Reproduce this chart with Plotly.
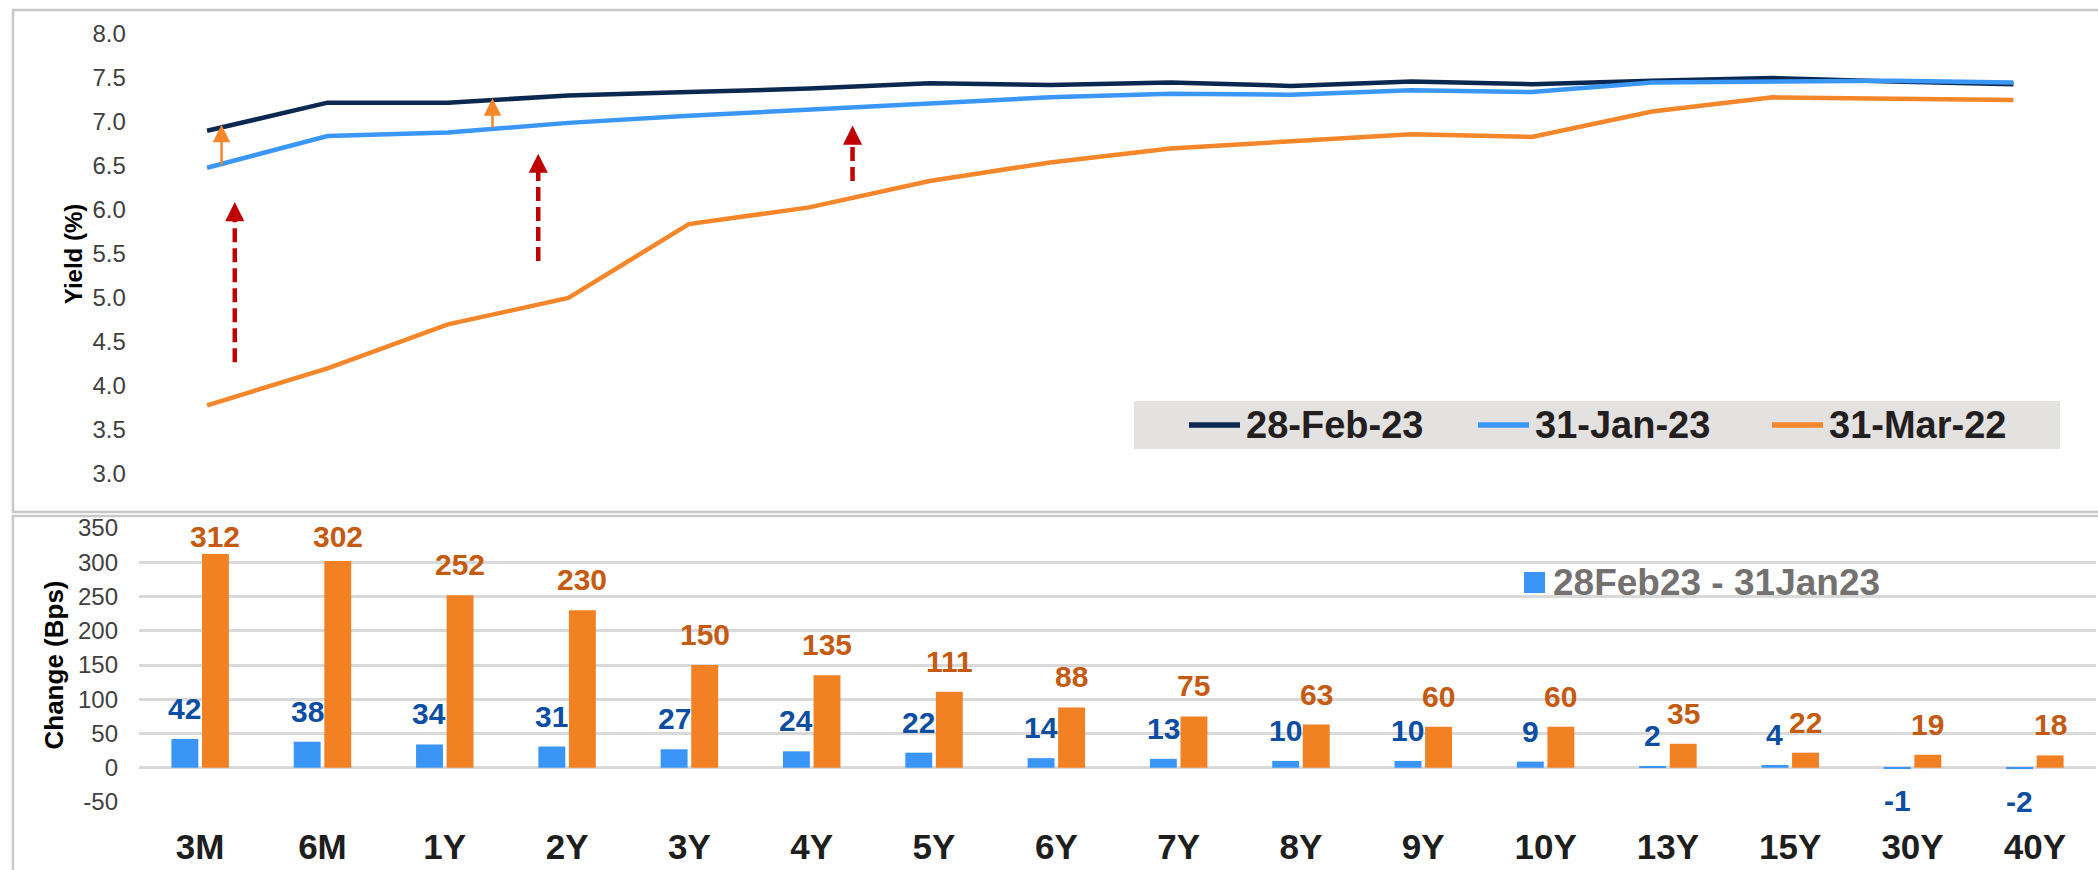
import plotly.graph_objects as go

# ---------------- data ----------------
tenors = ["3M", "6M", "1Y", "2Y", "3Y", "4Y", "5Y", "6Y", "7Y", "8Y",
          "9Y", "10Y", "13Y", "15Y", "30Y", "40Y"]

yield_28feb23 = [6.90, 7.22, 7.22, 7.30, 7.34, 7.38, 7.44, 7.42, 7.45, 7.41,
                 7.46, 7.43, 7.47, 7.50, 7.46, 7.43]
yield_31jan23 = [6.48, 6.84, 6.88, 6.99, 7.07, 7.14, 7.22, 7.28, 7.32, 7.31,
                 7.36, 7.34, 7.45, 7.46, 7.47, 7.45]
yield_31mar22 = [3.78, 4.20, 4.70, 5.00, 5.84, 6.03, 6.33, 6.54, 6.70, 6.78,
                 6.86, 6.83, 7.12, 7.28, 7.27, 7.25]

chg_feb_jan = [42, 38, 34, 31, 27, 24, 22, 14, 13, 10, 10, 9, 2, 4, -1, -2]
chg_feb_mar22 = [312, 302, 252, 230, 150, 135, 111, 88, 75, 63, 60, 60, 35, 22, 19, 18]

line_series = ["28-Feb-23", "31-Jan-23", "31-Mar-22"]
bar_series = ["28Feb23 - 31Jan23", "28Feb23 - 31Mar22"]

yield_ticks = [3.0, 3.5, 4.0, 4.5, 5.0, 5.5, 6.0, 6.5, 7.0, 7.5, 8.0]
change_ticks = [-50, 0, 50, 100, 150, 200, 250, 300, 350]

# annotation arrows on the yield chart: (tenor position, from yield, to yield)
orange_arrows = [(0.12, 6.50, 6.97), (2.37, 6.92, 7.27)]
red_arrows = [(0.23, 4.27, 6.09), (2.75, 5.42, 6.64), (5.36, 6.33, 6.96)]

# ---------------- styling ----------------
W, H = 2098, 870
NAVY = "#0A2850"
LBLUE = "#3A96F7"
ORANGE = "#F5862A"
BAR_BLUE = "#3A95F6"
BAR_ORANGE = "#F28124"
LBL_BLUE = "#0B4EA2"
LBL_ORANGE = "#C55A11"
RED = "#C00000"
FONT = "Liberation Sans, Arial, sans-serif"
line_colors = [NAVY, LBLUE, ORANGE]


def px(xp):
    return xp / W


def py(yp):
    return (H - yp) / H


pos = list(range(len(tenors)))

fig = go.Figure()

for name, vals, col in zip(line_series, [yield_28feb23, yield_31jan23, yield_31mar22], line_colors):
    fig.add_trace(go.Scatter(x=pos, y=vals, mode="lines", name=name,
                             line=dict(color=col, width=4.5),
                             xaxis="x", yaxis="y", showlegend=False))

fig.add_trace(go.Bar(x=pos, y=chg_feb_jan, name=bar_series[0],
                     marker=dict(color=BAR_BLUE, line=dict(width=0)),
                     xaxis="x2", yaxis="y2", showlegend=False))
fig.add_trace(go.Bar(x=pos, y=chg_feb_mar22, name=bar_series[1],
                     marker=dict(color=BAR_ORANGE, line=dict(width=0)),
                     xaxis="x2", yaxis="y2", showlegend=False))

annotations = []
shapes = []

# bar value labels
lbl_font_b = dict(size=30, color=LBL_BLUE, family=FONT, weight="bold")
lbl_font_o = dict(size=30, color=LBL_ORANGE, family=FONT, weight="bold")
for i, v in enumerate(chg_feb_jan):
    if v >= 0:
        annotations.append(dict(x=i - 0.125, y=v, xref="x2", yref="y2", text=str(v),
                                showarrow=False, yanchor="bottom", yshift=12,
                                font=lbl_font_b))
    else:
        annotations.append(dict(x=i - 0.125, y=v, xref="x2", yref="y2", text=str(v),
                                showarrow=False, yanchor="top", yshift=-14,
                                font=lbl_font_b))
for i, v in enumerate(chg_feb_mar22):
    annotations.append(dict(x=i + 0.125, y=min(v, 293), xref="x2", yref="y2", text=str(v),
                            showarrow=False, yanchor="bottom", yshift=12,
                            font=lbl_font_o))

# orange solid arrows
for xa, y0, y1 in orange_arrows:
    annotations.append(dict(x=xa, y=y1, ax=xa, ay=y0, xref="x", yref="y",
                            axref="x", ayref="y", text="", showarrow=True,
                            arrowhead=2, arrowsize=1.4, arrowwidth=2.5,
                            arrowcolor=ORANGE))
# red dashed arrows
for xa, y0, y1 in red_arrows:
    shapes.append(dict(type="line", xref="x", yref="y", x0=xa, x1=xa,
                       y0=y0, y1=y1 - 0.13,
                       line=dict(color=RED, width=4.5, dash="14px,6px")))
    annotations.append(dict(x=xa, y=y1, ax=xa, ay=y1 - 0.14, xref="x", yref="y",
                            axref="x", ayref="y", text="", showarrow=True,
                            arrowhead=2, arrowsize=0.85, arrowwidth=4.5,
                            arrowcolor=RED))

# panel borders
shapes.append(dict(type="rect", xref="paper", yref="paper",
                   x0=px(13), x1=1.01, y0=py(512), y1=py(10),
                   line=dict(color="#C8C8C8", width=2.5), layer="below"))
shapes.append(dict(type="rect", xref="paper", yref="paper",
                   x0=px(13), x1=1.01, y0=-0.02, y1=py(516),
                   line=dict(color="#C8C8C8", width=2.5), layer="below"))

# legend of the yield chart (grey box with line samples)
shapes.append(dict(type="rect", xref="paper", yref="paper",
                   x0=px(1134), x1=px(2060), y0=py(449), y1=py(401),
                   fillcolor="#E4E1E1", line=dict(width=0), layer="below"))
for name, col, x0 in zip(line_series, line_colors, [1189, 1478, 1772]):
    shapes.append(dict(type="line", xref="paper", yref="paper",
                       x0=px(x0), x1=px(x0 + 51), y0=py(425), y1=py(425),
                       line=dict(color=col, width=5.5)))
    annotations.append(dict(x=px(x0 + 55), y=py(425), xref="paper", yref="paper",
                            text=name, showarrow=False, xanchor="left", yanchor="middle",
                            font=dict(size=38, color="#231F20", family=FONT, weight="bold")))

# legend of the bar chart (blue series only)
shapes.append(dict(type="rect", xref="paper", yref="paper",
                   x0=px(1524), x1=px(1545), y0=py(593), y1=py(572),
                   fillcolor=BAR_BLUE, line=dict(width=0)))
annotations.append(dict(x=px(1551), y=py(582), xref="paper", yref="paper",
                        text=bar_series[0], showarrow=False, xanchor="left", yanchor="middle",
                        font=dict(size=37, color="#767171", family=FONT, weight="bold")))

fig.update_layout(
    width=W, height=H,
    margin=dict(l=0, r=0, t=0, b=0, autoexpand=False),
    paper_bgcolor="white", plot_bgcolor="white",
    font=dict(family=FONT, color="#404040"),
    showlegend=False,
    barmode="group", bargap=0.5, bargroupgap=0.12,
    annotations=annotations, shapes=shapes,
    xaxis=dict(domain=[0.07, 0.9884], range=[-0.5, 15.5], anchor="y", automargin=False,
               showticklabels=False, showgrid=False, zeroline=False, showline=False),
    yaxis=dict(domain=[py(474), py(34)], range=[3, 8], automargin=False,
               tickmode="array", tickvals=yield_ticks,
               ticktext=[f"{t:.1f}" for t in yield_ticks],
               anchor="x", showgrid=False, zeroline=False,
               ticklabelstandoff=20,
               tickfont=dict(size=24, color="#404040"),
               title=dict(text="Yield (%)", standoff=3,
                          font=dict(size=24, color="#000000", weight="bold"))),
    xaxis2=dict(domain=[px(139), px(2096)], range=[-0.5, 15.5], anchor="y2",
                automargin=False,
                tickmode="array", tickvals=pos, ticktext=tenors,
                showgrid=False, zeroline=False, showline=False,
                ticklabelstandoff=21,
                tickfont=dict(size=35, color="#1E1E1E", weight="bold")),
    yaxis2=dict(domain=[py(802), py(528)], range=[-50, 350], automargin=False,
                tickmode="array", tickvals=change_ticks,
                ticktext=[str(t) for t in change_ticks],
                anchor="x2", showgrid=True, gridcolor="#D9D9D9", gridwidth=2.5,
                zeroline=False, ticklabelstandoff=20,
                tickfont=dict(size=24, color="#404040"),
                title=dict(text="Change (Bps)", standoff=6,
                           font=dict(size=26, color="#000000", weight="bold"))),
)

fig.write_html("out.html", config={"displayModeBar": False},
               post_script="document.body.style.margin='0';")
